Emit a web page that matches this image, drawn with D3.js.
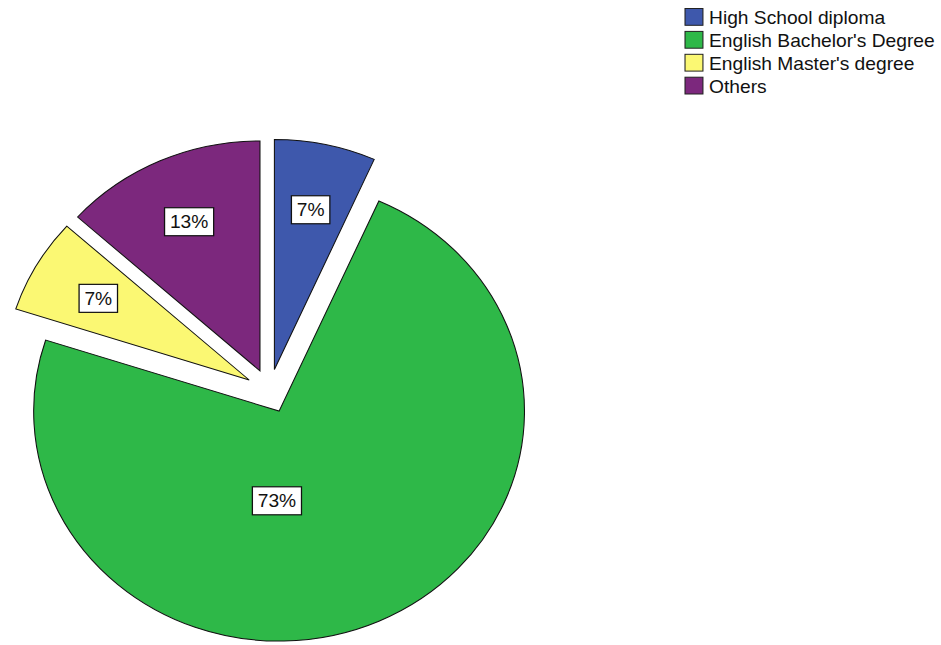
<!DOCTYPE html>
<html>
<head>
<meta charset="utf-8">
<script src="https://cdn.jsdelivr.net/npm/d3@7"></script>
<style>
  html, body { margin: 0; padding: 0; background: #ffffff; }
  svg { display: block; }
  text { font-family: "Liberation Sans", Arial, sans-serif; }
</style>
</head>
<body>
<svg id="chart" width="941" height="645"></svg>
<script>
// Highest qualification of respondents (counts per group)
const categories = ["High School diploma", "English Bachelor's Degree", "English Master's degree", "Others"];
const counts = [1, 11, 1, 2];
const colors = ["#3E58AC", "#2EB848", "#FBF873", "#7C287D"];

const width = 941, height = 645;
const stretchX = 1.067;          // chart is drawn slightly wider than tall
const cx = 252.6, cy = 391;      // pie centre (before horizontal stretch)
const radius = 230;
const explode = 22;              // every slice is pulled out from the centre
const fontSize = 18;

const svg = d3.select("#chart");
const root = svg.append("g").attr("transform", `scale(${stretchX},1)`);

const total = d3.sum(counts);
const pct = v => Math.round(v / total * 100) + "%";

const slices = d3.pie().sort(null).value(d => d)(counts);
const arc = d3.arc().innerRadius(0).outerRadius(radius);

slices.forEach(d => {
  d.mid = (d.startAngle + d.endAngle) / 2;
  d.dx = explode * Math.sin(d.mid);
  d.dy = -explode * Math.cos(d.mid);
});

const pieG = root.append("g").attr("transform", `translate(${cx},${cy})`);

const sliceG = pieG.selectAll("g.slice")
  .data(slices)
  .join("g")
  .attr("class", "slice")
  .attr("transform", d => `translate(${d.dx},${d.dy})`);

sliceG.append("path")
  .attr("d", arc)
  .attr("fill", (d, i) => colors[i])
  .attr("stroke", "#111")
  .attr("stroke-width", 1)
  .attr("stroke-linejoin", "miter");

// Percentage labels in white boxes
function labelPoint(d) {
  if (d.endAngle - d.startAngle > Math.PI) {
    // large slice: label straight below its apex
    return [-2, radius * 0.39];
  }
  const r = radius * 0.71;
  return [r * Math.sin(d.mid), -r * Math.cos(d.mid)];
}

const labelG = sliceG.append("g")
  .attr("transform", d => { const p = labelPoint(d); return `translate(${p[0]},${p[1]})`; });

labelG.each(function(d) {
  const g = d3.select(this);
  const t = g.append("text")
    .attr("text-anchor", "middle")
    .attr("dy", "0.36em")
    .attr("font-size", fontSize)
    .attr("fill", "#111")
    .text(pct(d.data));
  const bb = t.node().getBBox();
  const padX = 5, boxH = 28;
  g.insert("rect", "text")
    .attr("x", -bb.width / 2 - padX)
    .attr("y", -boxH / 2)
    .attr("width", bb.width + 2 * padX)
    .attr("height", boxH)
    .attr("fill", "#ffffff")
    .attr("stroke", "#111")
    .attr("stroke-width", 1.2);
});

// Legend
const legend = root.append("g").attr("transform", "translate(642,8.5)");
const rowH = 22.9, sw = 16.8;
const items = legend.selectAll("g.item")
  .data(categories)
  .join("g")
  .attr("class", "item")
  .attr("transform", (d, i) => `translate(0,${i * rowH})`);

items.append("rect")
  .attr("width", sw)
  .attr("height", sw)
  .attr("fill", (d, i) => colors[i])
  .attr("stroke", "#222")
  .attr("stroke-width", 1);

items.append("text")
  .attr("x", 22.5)
  .attr("y", sw / 2 + 1)
  .attr("dy", "0.35em")
  .attr("font-size", fontSize)
  .attr("fill", "#111")
  .text(d => d);
</script>
</body>
</html>
